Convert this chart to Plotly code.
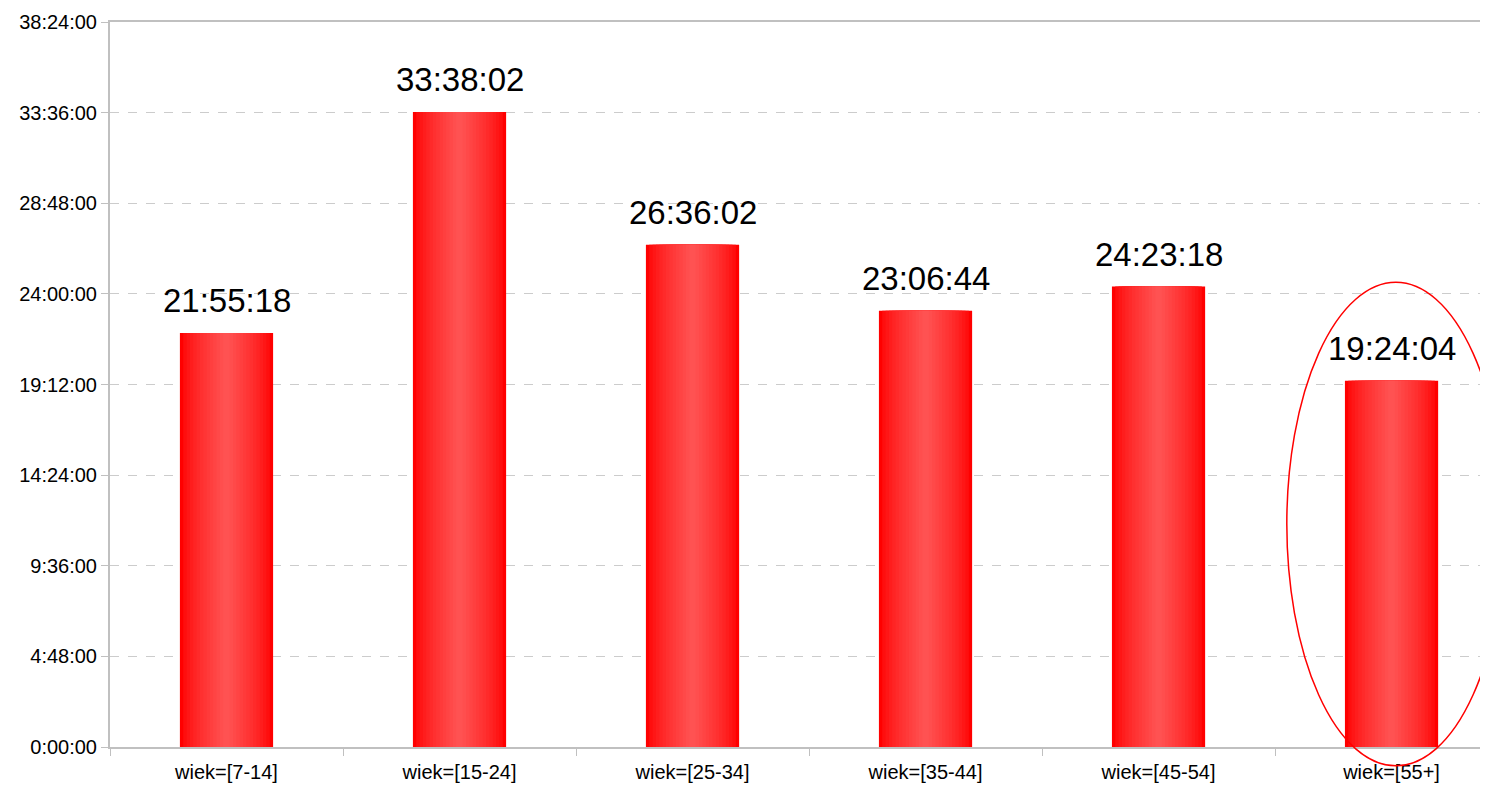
import plotly.graph_objects as go

categories = ["wiek=[7-14]", "wiek=[15-24]", "wiek=[25-34]", "wiek=[35-44]", "wiek=[45-54]", "wiek=[55+]"]
durations = ["21:55:18", "33:38:02", "26:36:02", "23:06:44", "24:23:18", "19:24:04"]
tick_hours = [0, 4.8, 9.6, 14.4, 19.2, 24.0, 28.8, 33.6, 38.4]
tick_labels = ["0:00:00", "4:48:00", "9:36:00", "14:24:00", "19:12:00", "24:00:00", "28:48:00", "33:36:00", "38:24:00"]


def to_hours(s):
    h, m, sec = (int(p) for p in s.split(":"))
    return h + m / 60 + sec / 3600


values = [to_hours(d) for d in durations]

FONT = "Liberation Sans, Arial, sans-serif"
fig = go.Figure()

# horizontal gradient imitation: nested bars, lighter toward the centre
n_layers = 14
full_w = 0.40
edge = (255, 0, 0)
centre = (255, 82, 82)
for i in range(n_layers):
    t = i / (n_layers - 1)
    w = full_w * (1 - i / n_layers)
    c = tuple(int(round(edge[k] + (centre[k] - edge[k]) * (t ** 0.7))) for k in range(3))
    fig.add_trace(go.Bar(
        x=categories, y=values, width=w,
        marker=dict(color=f"rgb{c}", line=dict(width=0)),
        hoverinfo="skip" if i else None,
        showlegend=False,
    ))

for cat, val, lab in zip(categories, values, durations):
    fig.add_annotation(x=cat, y=val, text=lab, showarrow=False, yanchor="bottom",
                       yshift=12, font=dict(family=FONT, size=33, color="#000000"))

# red ellipse highlight around the last category
fig.add_shape(type="circle", xref="paper", yref="paper",
              x0=0.854, x1=1.0123, y0=-0.026, y1=0.641,
              line=dict(color="#ff0000", width=1.5), fillcolor="rgba(0,0,0,0)", layer="above")

fig.update_layout(
    width=1480, height=779,
    margin=dict(l=102, r=0, t=14, b=40),
    paper_bgcolor="white", plot_bgcolor="white",
    barmode="overlay",
    font=dict(family=FONT, size=20, color="#000000"),
    xaxis=dict(
        type="category", range=[-0.5, 5.414],
        showline=True, linecolor="#c0c0c0", linewidth=2, mirror=True,
        ticks="outside", tickson="boundaries", ticklen=7, tickcolor="#c0c0c0",
        showgrid=False, tickfont=dict(size=20), ticklabelstandoff=6, fixedrange=True,
    ),
    yaxis=dict(
        range=[0, 38.4], tickvals=tick_hours, ticktext=tick_labels,
        showline=True, linecolor="#c0c0c0", linewidth=2,
        ticks="outside", ticklen=7, tickcolor="#c0c0c0",
        showgrid=True, gridcolor="#cccccc", griddash="dash", gridwidth=1,
        zeroline=False, tickfont=dict(size=20), fixedrange=True,
    ),
)

fig.write_html("out.html")
